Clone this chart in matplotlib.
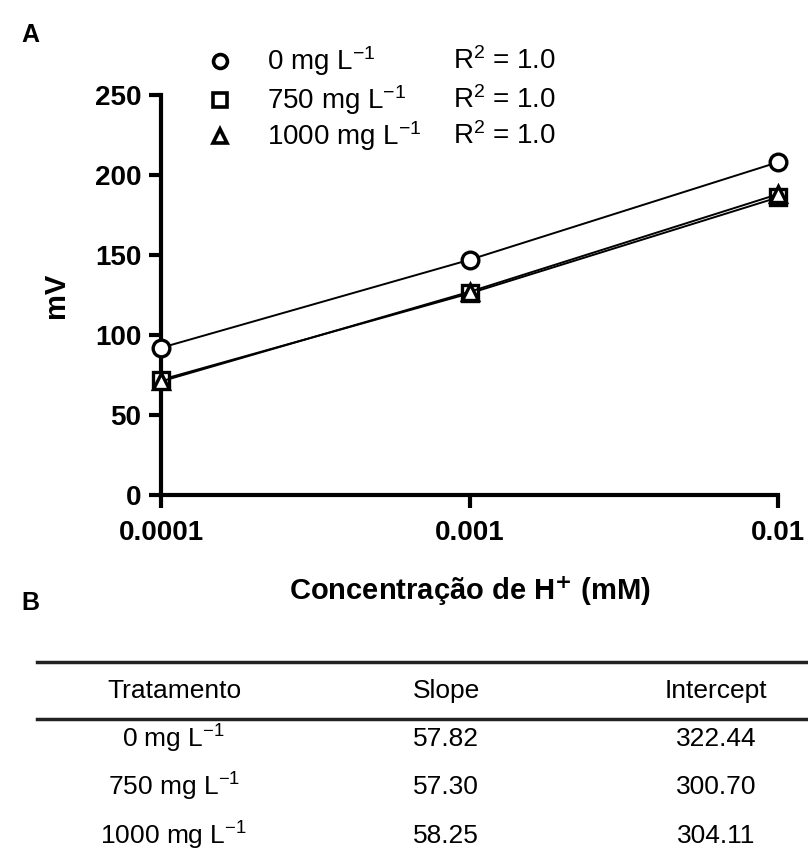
import numpy as np
import matplotlib
matplotlib.use("Agg")
import matplotlib.pyplot as plt
from matplotlib.lines import Line2D

plt.rcParams['font.family'] = ['Liberation Sans', 'DejaVu Sans']
plt.rcParams['mathtext.default'] = 'regular'

# data
conc = [0.0001, 0.001, 0.01]
mv_0 = [92, 147, 208]
mv_750 = [72, 126, 186]
mv_1000 = [71, 127, 188]
series_labels = ['0 mg L$^{-1}$', '750 mg L$^{-1}$', '1000 mg L$^{-1}$']
r2_labels = ['R$^2$ = 1.0', 'R$^2$ = 1.0', 'R$^2$ = 1.0']
markers = ['o', 's', '^']

tratamento = ['0 mg L$^{-1}$', '750 mg L$^{-1}$', '1000 mg L$^{-1}$']
slopes = ['57.82', '57.30', '58.25']
intercepts = ['322.44', '300.70', '304.11']
headers = ['Tratamento', 'Slope', 'Intercept']

fig = plt.figure(figsize=(8.08, 8.67), dpi=100)
ax = fig.add_axes([0.1993, 0.4291, 0.7636, 0.4613])

for y, m in zip([mv_0, mv_750, mv_1000], markers):
    ax.plot(conc, y, color='black', lw=1.4, marker=m, ms=12,
            mfc='white', mec='black', mew=2.4, clip_on=False, zorder=3)

ax.set_xscale('log')
ax.set_xlim(1e-4, 1e-2)
ax.set_ylim(0, 250)
ax.set_xticks(conc)
ax.set_xticklabels(['0.0001', '0.001', '0.01'])
ax.minorticks_off()
ax.set_yticks([0, 50, 100, 150, 200, 250])
for s in ['top', 'right']:
    ax.spines[s].set_visible(False)
for s in ['left', 'bottom']:
    ax.spines[s].set_linewidth(3)
ax.tick_params(width=3, length=9, labelsize=20, pad=5)
ax.tick_params(axis='x', pad=9)
for lab in ax.get_xticklabels() + ax.get_yticklabels():
    lab.set_fontweight('bold')
ax.set_ylabel('mV', fontsize=21, fontweight='bold', labelpad=18)
ax.set_xlabel('Concentração de H$^{\\mathbf{+}}$ (mM)', fontsize=21,
              fontweight='bold', labelpad=20)

# legend
rows_y = [0.930, 0.885, 0.843]
for yy, m, lab, r2 in zip(rows_y, markers, series_labels, r2_labels):
    fig.add_artist(Line2D([0.2723], [yy], marker=m, ms=10, mfc='white',
                          mec='black', mew=2.6, transform=fig.transFigure))
    fig.text(0.3304, yy, lab, fontsize=20, va='center')
    fig.text(0.5606, yy, r2, fontsize=20, va='center')

fig.text(0.027, 0.96, 'A', fontsize=18, fontweight='bold', va='center')
fig.text(0.027, 0.305, 'B', fontsize=18, fontweight='bold', va='center')

# table
col_x = [0.2153, 0.552, 0.886]
fig.add_artist(Line2D([0.046, 1.0], [0.2364, 0.2364], color='#222222', lw=2.5,
                      transform=fig.transFigure))
fig.add_artist(Line2D([0.046, 1.0], [0.1707, 0.1707], color='#222222', lw=2.5,
                      transform=fig.transFigure))
for x, h in zip(col_x, headers):
    fig.text(x, 0.2035, h, fontsize=19, ha='center', va='center')
row_y = [0.148, 0.092, 0.036]
for i in range(3):
    fig.text(col_x[0], row_y[i], tratamento[i], fontsize=19, ha='center', va='center')
    fig.text(col_x[1], row_y[i], slopes[i], fontsize=19, ha='center', va='center')
    fig.text(col_x[2], row_y[i], intercepts[i], fontsize=19, ha='center', va='center')

plt.savefig('out.png', dpi=100)
